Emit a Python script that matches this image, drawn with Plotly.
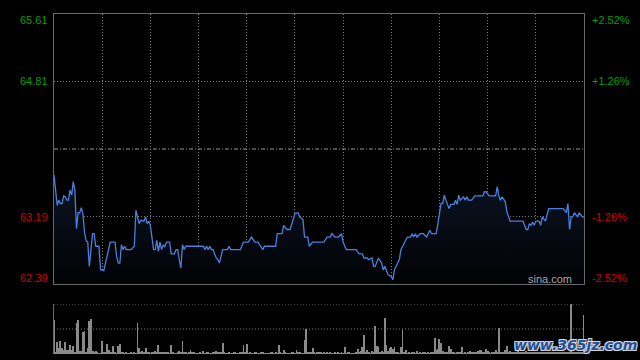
import plotly.graph_objects as go

# ---- data ----
prev_close = 64.00
axis_prices = [65.61, 64.81, 63.19, 62.39]
axis_pcts = ["+2.52%", "+1.26%", "-1.26%", "-2.52%"]

# minute offsets from open (HK session, 330 minutes) and traded prices
minute_idx = [0, 2, 3, 4, 5, 6, 7, 8, 9, 10, 11, 12, 13, 14, 15, 16, 17, 18, 19, 20,
              21, 22, 23, 24, 25, 26, 28, 29, 31, 32, 33, 35, 38, 39, 40, 41, 42, 43, 44, 45,
              48, 50, 51, 53, 54, 56, 57, 58, 59, 60, 62, 63, 64, 65, 66, 67, 68, 69, 70, 72,
              73, 75, 76, 77, 78, 79, 80, 81, 82, 93, 94, 95, 96, 97, 98, 99, 101, 102, 103, 104,
              105, 108, 109, 110, 116, 118, 121, 123, 125, 127, 130, 131, 138, 139, 142, 143, 145, 147, 149, 150,
              152, 153, 155, 156, 158, 159, 161, 168, 170, 172, 173, 175, 177, 179, 180, 181, 182, 188, 190, 192,
              193, 195, 196, 198, 199, 200, 201, 202, 204, 205, 206, 208, 210, 211, 212, 214, 215, 216, 219, 220,
              222, 223, 224, 225, 226, 228, 230, 232, 233, 234, 235, 238, 240, 241, 242, 243, 244, 246, 247, 249,
              250, 251, 252, 253, 255, 256, 257, 258, 260, 262, 267, 268, 269, 271, 275, 276, 277, 278, 279, 280,
              281, 282, 284, 292, 293, 294, 295, 296, 297, 298, 299, 300, 302, 303, 304, 306, 308, 317, 319, 320,
              321, 322, 323, 324, 326, 327, 329, 330]
price = [63.69, 63.33, 63.39, 63.35, 63.35, 63.44, 63.43, 63.39, 63.39, 63.51, 63.45, 63.61, 63.51, 63.05, 63.24, 63.24, 63.30, 63.23, 63.01, 62.91,
         62.89, 62.60, 62.80, 62.99, 62.99, 62.84, 62.84, 62.56, 62.55, 62.64, 62.71, 62.89, 62.89, 62.72, 62.64, 62.64, 62.86, 62.80, 62.84, 62.80,
         62.80, 62.84, 63.27, 63.11, 63.15, 63.14, 63.19, 63.11, 63.14, 63.09, 62.80, 62.80, 62.91, 62.78, 62.89, 62.80, 62.86, 62.83, 62.89, 62.89,
         62.75, 62.75, 62.80, 62.80, 62.68, 62.58, 62.86, 62.80, 62.84, 62.84, 62.80, 62.84, 62.80, 62.84, 62.80, 62.80, 62.70, 62.68, 62.64, 62.71,
         62.80, 62.80, 62.84, 62.80, 62.80, 62.89, 62.89, 62.95, 62.89, 62.89, 62.80, 62.84, 62.84, 62.99, 62.99, 63.09, 63.04, 63.04, 63.17, 63.23,
         63.24, 63.19, 63.16, 62.95, 62.95, 62.84, 62.89, 62.89, 62.95, 62.95, 62.99, 62.95, 62.95, 62.99, 62.89, 62.84, 62.80, 62.80, 62.75, 62.75,
         62.70, 62.70, 62.68, 62.70, 62.60, 62.60, 62.64, 62.70, 62.64, 62.56, 62.60, 62.50, 62.48, 62.44, 62.56, 62.64, 62.68, 62.80, 62.91, 62.95,
         62.95, 62.99, 62.95, 62.99, 62.95, 62.99, 62.99, 62.95, 62.99, 63.03, 62.99, 62.99, 63.23, 63.35, 63.35, 63.45, 63.39, 63.29, 63.34, 63.34,
         63.39, 63.34, 63.45, 63.39, 63.43, 63.39, 63.43, 63.39, 63.39, 63.44, 63.44, 63.49, 63.49, 63.44, 63.44, 63.55, 63.44, 63.39, 63.43, 63.40,
         63.37, 63.25, 63.14, 63.14, 63.09, 63.04, 63.04, 63.11, 63.09, 63.13, 63.09, 63.14, 63.14, 63.09, 63.19, 63.14, 63.29, 63.29, 63.24, 63.35,
         63.04, 63.19, 63.19, 63.24, 63.19, 63.24, 63.19, 63.19]

# per-minute volume (relative units, 100 = top of the volume panel)
volume = [69, 5, 25, 12, 27, 12, 9, 25, 9, 9,
          19, 9, 17, 5, 62, 69, 7, 7, 45, 47,
          5, 12, 67, 71, 7, 5, 7, 3, 2, 2,
          27, 5, 3, 21, 9, 3, 5, 17, 3, 2,
          17, 21, 3, 3, 2, 3, 2, 2, 3, 2,
          3, 2, 63, 12, 5, 7, 3, 13, 5, 3,
          2, 3, 3, 7, 3, 19, 3, 3, 5, 3,
          3, 5, 2, 19, 3, 2, 2, 3, 7, 3,
          27, 5, 3, 2, 3, 9, 3, 5, 2, 2,
          2, 3, 2, 7, 2, 3, 5, 2, 2, 5,
          3, 7, 3, 5, 3, 23, 3, 2, 2, 3,
          2, 2, 3, 5, 2, 2, 3, 3, 19, 3,
          21, 2, 3, 2, 2, 3, 3, 2, 2, 3,
          3, 2, 2, 2, 2, 3, 3, 2, 3, 2,
          19, 3, 2, 9, 3, 2, 2, 2, 5, 3,
          2, 9, 3, 3, 2, 2, 29, 50, 3, 3,
          5, 12, 3, 2, 5, 3, 3, 2, 3, 2,
          5, 2, 3, 2, 2, 3, 2, 3, 2, 5,
          2, 14, 2, 3, 3, 2, 2, 2, 3, 10,
          3, 7, 14, 39, 3, 9, 3, 2, 7, 5,
          57, 17, 14, 3, 7, 3, 72, 19, 7, 12,
          15, 10, 14, 3, 3, 2, 14, 49, 3, 9,
          2, 3, 2, 3, 3, 2, 7, 2, 3, 2,
          3, 3, 2, 3, 2, 3, 3, 32, 9, 10,
          30, 22, 7, 5, 5, 3, 17, 10, 5, 3,
          2, 3, 5, 3, 14, 2, 3, 2, 3, 7,
          3, 5, 3, 3, 7, 9, 9, 3, 5, 10,
          7, 5, 2, 3, 5, 9, 3, 52, 3, 5,
          3, 9, 17, 3, 7, 5, 3, 5, 3, 8,
          4, 3, 5, 3, 6, 3, 4, 3, 5, 3,
          4, 3, 5, 3, 4, 3, 5, 3, 4, 3,
          5, 3, 4, 3, 5, 3, 4, 3, 5, 3,
          4, 3, 100, 3, 4, 3, 5, 3, 4, 3,
          79]
vol_minutes = list(range(len(volume)))
session_len = 330
grid_minutes = [30, 60, 90, 120, 150, 180, 210, 240, 270, 300]

# ---- figure ----
W, H = 640, 360
x_dom = [54 / W, 584 / W]
y_main = [1 - 284 / H, 1 - 14 / H]
y_vol = [1 - 354 / H, 1 - 304 / H]

GRID = "#7a7a7a"
BORDER = "#6a6a6a"
GREEN = "#00a000"
RED = "#d00000"

fig = go.Figure()

# baseline for the area fill
fig.add_trace(go.Scatter(x=[0, session_len], y=[axis_prices[-1], axis_prices[-1]],
                         mode="lines", line=dict(width=0), hoverinfo="skip",
                         showlegend=False, xaxis="x", yaxis="y"))
fig.add_trace(go.Scatter(x=minute_idx, y=price, mode="lines",
                         line=dict(color="#4a80dc", width=1.3),
                         fill="tonexty",
                         fillgradient=dict(type="vertical",
                                           colorscale=[[0, "#010204"], [1, "#0c1424"]],
                                           start=axis_prices[-1], stop=max(price)),
                         showlegend=False, xaxis="x", yaxis="y"))
fig.add_trace(go.Bar(x=vol_minutes, y=volume, width=0.6,
                     marker=dict(color="#8a8a8a", line=dict(width=0)),
                     showlegend=False, xaxis="x2", yaxis="y2"))

fig.update_layout(
    width=W, height=H,
    margin=dict(l=0, r=0, t=0, b=0),
    paper_bgcolor="black", plot_bgcolor="black",
    bargap=0,
    xaxis=dict(domain=x_dom, range=[0, session_len], anchor="y",
               tickvals=grid_minutes, showticklabels=False, ticks="",
               showgrid=True, gridcolor=GRID, griddash="1px,2px", gridwidth=1,
               showline=True, mirror=True, linecolor=BORDER, linewidth=1,
               zeroline=False),
    yaxis=dict(domain=y_main, range=[axis_prices[-1], axis_prices[0]], anchor="x",
               tickvals=[axis_prices[1], axis_prices[2]], showticklabels=False, ticks="",
               showgrid=True, gridcolor=GRID, griddash="1px,2px", gridwidth=1,
               showline=True, mirror=True, linecolor=BORDER, linewidth=1,
               zeroline=False),
    xaxis2=dict(domain=x_dom, range=[0, session_len], anchor="y2",
                showticklabels=False, ticks="", showgrid=False,
                showline=False, zeroline=False),
    yaxis2=dict(domain=y_vol, range=[0, 100], anchor="x2",
                showticklabels=False, ticks="", showgrid=False,
                showline=True, linecolor=BORDER, linewidth=1, zeroline=False),
    shapes=[
        dict(type="line", xref="x domain", yref="y", x0=0, x1=1,
             y0=prev_close, y1=prev_close,
             line=dict(color="#9a9a9a", width=1, dash="4px,2px,1px,2px")),
        dict(type="line", xref="x2 domain", yref="y2", x0=0, x1=1, y0=100, y1=100,
             line=dict(color=GRID, width=1, dash="1px,2px")),
        dict(type="line", xref="x2 domain", yref="y2", x0=0, x1=1, y0=50, y1=50,
             line=dict(color=GRID, width=1, dash="1px,2px")),
    ],
)

label_font = dict(family="Liberation Sans, Arial, sans-serif", size=11)
shifts = [-6, 0, 0, 6]
for p, pct, s in zip(axis_prices, axis_pcts, shifts):
    col = GREEN if p > prev_close else RED
    fig.add_annotation(x=50 / W, xref="paper", y=p, yref="y", text=f"{p:.2f}",
                       xanchor="right", yanchor="middle", showarrow=False,
                       yshift=s, font=dict(color=col, **label_font))
    fig.add_annotation(x=590 / W, xref="paper", y=p, yref="y", text=pct,
                       xanchor="left", yanchor="middle", showarrow=False,
                       yshift=s, font=dict(color=col, **label_font))

fig.add_annotation(x=574 / W, xref="paper", y=1 - 279 / H, yref="paper", text="sina.com",
                   xanchor="right", yanchor="middle", showarrow=False,
                   font=dict(color="#a8a8a8", family="Liberation Sans, Arial, sans-serif", size=11))

fig.add_annotation(x=575 / W, xref="paper", y=1 - 345 / H, yref="paper", text="<b><i>www.365jz.com</i></b>",
                   xanchor="center", yanchor="middle", showarrow=False,
                   font=dict(color="#1d4f9e", family="DejaVu Sans, sans-serif", size=14,
                             shadow="1px 1px 0 #d8d8d8, -1px -1px 0 #d8d8d8, 1px -1px 0 #d8d8d8, -1px 1px 0 #d8d8d8"))

fig.write_html("out.html", config={"displayModeBar": False},
               post_script="document.body.style.margin='0';document.body.style.background='black';")
